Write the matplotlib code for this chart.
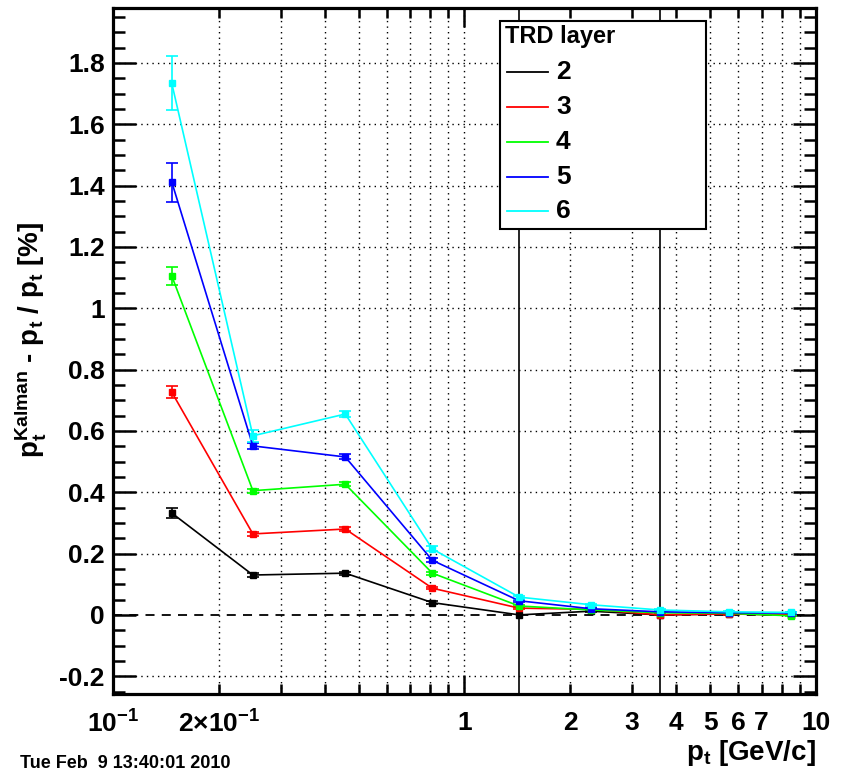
import matplotlib
matplotlib.use("Agg")
import matplotlib.pyplot as plt
from matplotlib.ticker import FixedLocator, FixedFormatter, MultipleLocator, FuncFormatter
from matplotlib.lines import Line2D
from matplotlib.patches import Rectangle

plt.rcParams['font.family'] = ['Liberation Sans', 'DejaVu Sans']
plt.rcParams['font.weight'] = 'bold'
plt.rcParams['mathtext.fontset'] = 'custom'
plt.rcParams['mathtext.rm'] = 'Liberation Sans:bold'
plt.rcParams['mathtext.bf'] = 'Liberation Sans:bold'
plt.rcParams['mathtext.it'] = 'Liberation Sans:bold'
plt.rcParams['mathtext.default'] = 'bf'

# data
pt = [0.147, 0.25, 0.458, 0.81, 1.43, 2.29, 3.6, 5.65, 8.5]
layers = ["2", "3", "4", "5", "6"]
colors = ["black", "#ff0000", "#00ff00", "#0000ff", "#00ffff"]

res_2 = [0.332, 0.130, 0.136, 0.040, 0.000, 0.012, 0.000, 0.003, 0.000]
res_3 = [0.726, 0.264, 0.280, 0.087, 0.022, 0.018, 0.000, 0.003, 0.000]
res_4 = [1.105, 0.405, 0.426, 0.136, 0.029, 0.016, 0.007, 0.005, -0.003]
res_5 = [1.411, 0.551, 0.515, 0.178, 0.046, 0.020, 0.010, 0.007, 0.006]
res_6 = [1.733, 0.584, 0.655, 0.215, 0.058, 0.033, 0.016, 0.010, 0.008]

err_2 = [0.015, 0.005, 0.005, 0.004, 5.0, 0.003, 5.0, 0.002, 0.002]
err_3 = [0.020, 0.006, 0.006, 0.004, 0.003, 0.003, 0.002, 0.002, 0.002]
err_4 = [0.030, 0.007, 0.007, 0.005, 0.003, 0.003, 0.002, 0.002, 0.002]
err_5 = [0.063, 0.010, 0.008, 0.006, 0.004, 0.003, 0.002, 0.002, 0.002]
err_6 = [0.088, 0.020, 0.010, 0.008, 0.005, 0.003, 0.003, 0.002, 0.002]

values = [res_2, res_3, res_4, res_5, res_6]
errors = [err_2, err_3, err_4, err_5, err_6]

W, H = 845, 776
fig = plt.figure(figsize=(W / 100, H / 100), dpi=100)

def fx(x):
    return x / W

def fy(y):
    return 1 - y / H

ax = fig.add_axes([fx(113), fy(694), fx(816) - fx(113), fy(8) - fy(694)])

ax.set_xscale('log')
ax.set_xlim(0.1, 10)
ax.set_ylim(-0.258, 1.979)

# dotted grid
for x in [0.2, 0.3, 0.4, 0.5, 0.6, 0.7, 0.8, 0.9, 1, 2, 3, 4, 5, 6, 7, 8, 9]:
    ax.axvline(x, color='black', lw=1.0, ls=(0, (1, 3)), zorder=1)
for y in [-0.2, 0.2, 0.4, 0.6, 0.8, 1.0, 1.2, 1.4, 1.6, 1.8]:
    ax.axhline(y, color='black', lw=1.0, ls=(0, (1, 3)), zorder=1)

# zero line
ax.axhline(0, color='black', lw=1.3, ls=(0, (5, 4)), zorder=2)

# series
for vals, errs, col in zip(values, errors, colors):
    ax.errorbar(pt, vals, yerr=errs, color=col, lw=1.2, marker='s', ms=4,
                mec=col, mfc=col, capsize=4, capthick=1.2, elinewidth=1.2, zorder=3)

# axes styling
for s in ax.spines.values():
    s.set_linewidth(2.3)
    s.set_zorder(10)

ax.xaxis.set_major_locator(FixedLocator([0.1, 1, 10]))
ax.xaxis.set_major_formatter(FixedFormatter([r'$10^{-1}$', '1', '10']))
minor_x = [0.2, 0.3, 0.4, 0.5, 0.6, 0.7, 0.8, 0.9, 2, 3, 4, 5, 6, 7, 8, 9]
minor_lbl = [r'$2{\times}10^{-1}$', '', '', '', '', '', '', '', '2', '3', '4', '5', '6', '7', '', '']
ax.xaxis.set_minor_locator(FixedLocator(minor_x))
ax.xaxis.set_minor_formatter(FixedFormatter(minor_lbl))

ax.yaxis.set_major_locator(MultipleLocator(0.2))
ax.yaxis.set_minor_locator(MultipleLocator(0.05))
ax.yaxis.set_major_formatter(FuncFormatter(lambda v, p: '%g' % round(v, 2)))

ax.tick_params(axis='both', which='both', direction='in', top=True, right=True,
               labelsize=19, width=1.8, color='black')
ax.tick_params(axis='x', which='major', length=14, pad=12)
ax.tick_params(axis='x', which='minor', length=7.5, pad=12)
ax.tick_params(axis='y', which='major', length=16.5, pad=6)
ax.tick_params(axis='y', which='minor', length=8.5, pad=6)

# axis titles
fig.text(fx(30), fy(340), r'$p_{t}^{Kalman}$ - $p_{t}$ / $p_{t}$ [%]',
         rotation=90, ha='center', va='center', fontsize=20, fontweight='bold')
fig.text(fx(816), fy(760), r'$p_{t}$ [GeV/c]', ha='right', va='baseline',
         fontsize=20, fontweight='bold')
fig.text(fx(20), fy(768), 'Tue Feb  9 13:40:01 2010', ha='left', va='baseline',
         fontsize=13, fontweight='bold')

# legend box
fig.patches.append(Rectangle((fx(500), fy(229)), fx(706) - fx(500), fy(21) - fy(229),
                             transform=fig.transFigure, facecolor='white',
                             edgecolor='black', lw=1.5, zorder=20))
fig.text(fx(505), fy(36), 'TRD layer', ha='left', va='center', fontsize=17,
         fontweight='bold', zorder=21)
entry_y = [72, 107, 142, 177, 211]
for lab, col, yy in zip(layers, colors, entry_y):
    fig.lines.append(Line2D([fx(507), fx(548)], [fy(yy), fy(yy)], color=col, lw=1.3,
                            transform=fig.transFigure, zorder=21))
    fig.text(fx(556), fy(yy), lab, ha='left', va='center', fontsize=19,
             fontweight='bold', zorder=21)

fig.savefig("out.png", dpi=100)
